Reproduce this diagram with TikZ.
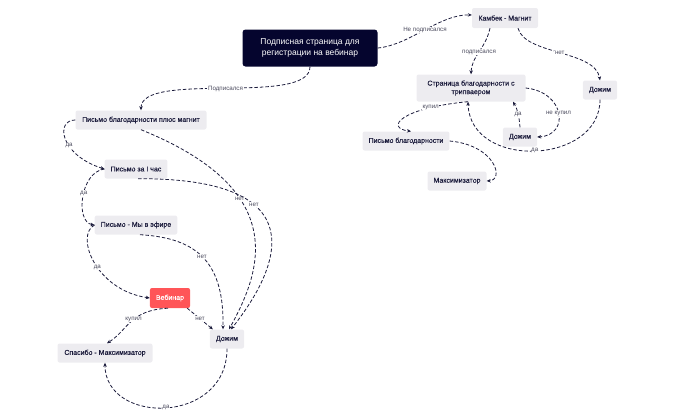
\documentclass[tikz,border=0pt]{standalone}
\usepackage{fontspec}
\setmainfont{Liberation Sans}
\newfontfamily\boxfont{Liberation Sans}[FakeBold=0.3]
\usetikzlibrary{arrows.meta}
\definecolor{navy}{HTML}{05052E}
\definecolor{boxgrey}{HTML}{EDECF0}
\definecolor{webred}{HTML}{FF5558}
\definecolor{ink}{HTML}{1C1C3C}
\definecolor{lblgrey}{HTML}{4B4B5E}

\begin{document}
\begin{tikzpicture}[x=1pt, y=1pt,
  box/.style={fill=boxgrey, rounded corners=2pt, text=ink, minimum height=19pt, inner xsep=6pt, font=\boxfont\fontsize{7}{8.5}\selectfont},
  conn/.style={ink, line width=0.8pt, dash pattern=on 3.5pt off 2pt, -{Stealth[length=4pt, width=3.5pt]}},
  lbl/.style={fill=white, inner sep=0.6pt, text=lblgrey, font=\fontsize{6.2}{7}\selectfont}]
  \useasboundingbox (0,0) rectangle (674,-418);

  \node[box, fill=navy, text=white, rounded corners=3pt, minimum width=135pt, minimum height=37pt, align=center, font=\fontsize{8.5}{11}\selectfont] (signup) at (310,-48) {Подписная страница для\\регистрации на вебинар};
  \node[box, minimum width=66pt, minimum height=20pt] (comeback) at (505,-18) {Камбек - Магнит};
  \node[box, minimum width=109pt, minimum height=27pt, align=center] (tripwire) at (471,-88) {Страница благодарности с\\трипваером};
  \node[box, minimum width=34pt] (push right) at (600,-90) {Дожим};
  \node[box, minimum width=34pt] (push mid) at (520,-137) {Дожим};
  \node[box, minimum width=86pt] (thanks) at (406,-141) {Письмо благодарности};
  \node[box, minimum width=59pt] (maxim) at (457,-181) {Максимизатор};
  \node[box, minimum width=131pt] (magnet) at (141,-120) {Письмо благодарности плюс магнит};
  \node[box, minimum width=62pt] (hour) at (136,-169) {Письмо за I час};
  \node[box, minimum width=82pt] (live) at (136,-225) {Письмо - Мы в эфире};
  \node[box, fill=webred, text=white, minimum width=38pt, minimum height=20pt] (webinar) at (170,-298) {Вебинар};
  \node[box, minimum width=34pt] (push left) at (227,-339) {Дожим};
  \node[box, minimum width=95pt] (final) at (105,-353) {Спасибо - Максимизатор};

  \draw[conn] (signup.south) .. controls +(0,-40) and +(0,40) .. node[lbl, pos=0.5] {Подписался} (magnet.north);
  \draw[conn] (signup.east) .. controls (410,-45) and (440,-14) .. node[lbl, pos=0.5] {Не подписался} ([yshift=3pt]comeback.west);
  \draw[conn] ([xshift=-15pt]comeback.south) .. controls (485,-50) and (472,-55) .. node[lbl, pos=0.5] {подписался} (tripwire.north);
  \draw[conn] ([xshift=13pt]comeback.south) .. controls (525,-55) and (595,-50) .. node[lbl, pos=0.5] {нет} (push right.north);
  \draw[conn] (tripwire.east) .. controls (565,-92) and (570,-135) .. node[lbl, pos=0.5] {не купил} (push mid.east);
  \draw[conn] (push mid.north) to[out=95, in=-60] node[lbl] {да} ([xshift=42pt]tripwire.south);
  \draw[conn] (push right.south) .. controls (600,-165) and (470,-170) .. node[lbl, pos=0.5] {да} ([xshift=-3pt]tripwire.south);
  \draw[conn] ([xshift=-3pt]tripwire.south) .. controls (400,-108) and (385,-128) .. node[lbl, pos=0.22] {купил} ([xshift=5pt]thanks.north);
  \draw[conn] (thanks.east) .. controls (495,-145) and (505,-180) .. (maxim.east);

  \draw[conn] (magnet.west) .. controls (55,-120) and (60,-155) .. node[lbl, pos=0.6] {да} (hour.west);
  \draw[conn] (hour.west) .. controls (80,-172) and (75,-222) .. node[lbl, pos=0.45] {да} (live.west);
  \draw[conn] (live.west) .. controls (75,-235) and (95,-290) .. node[lbl, pos=0.55] {да} (webinar.west);
  \draw[conn] (magnet.south) .. controls (290,-190) and (262,-270) .. node[lbl, pos=0.35] {нет} ([xshift=2pt]push left.north);
  \draw[conn] ([xshift=2pt]hour.south) .. controls (330,-178) and (270,-280) .. node[lbl, pos=0.32] {нет} ([xshift=4pt]push left.north);
  \draw[conn] ([xshift=4pt]live.south) .. controls (200,-238) and (224,-265) .. node[lbl, pos=0.47] {нет} ([xshift=-4pt]push left.north);
  \draw[conn] ([xshift=-3pt]webinar.south east) -- node[lbl] {нет} ([xshift=3pt]push left.north west);
  \draw[conn] ([xshift=-2pt]webinar.south) .. controls (130,-310) and (128,-330) .. node[lbl, pos=0.45] {купил} ([xshift=2pt]final.north);
  \draw[conn] (push left.south) .. controls (227,-425) and (105,-425) .. node[lbl, pos=0.5] {да} (final.south);
\end{tikzpicture}
\end{document}
